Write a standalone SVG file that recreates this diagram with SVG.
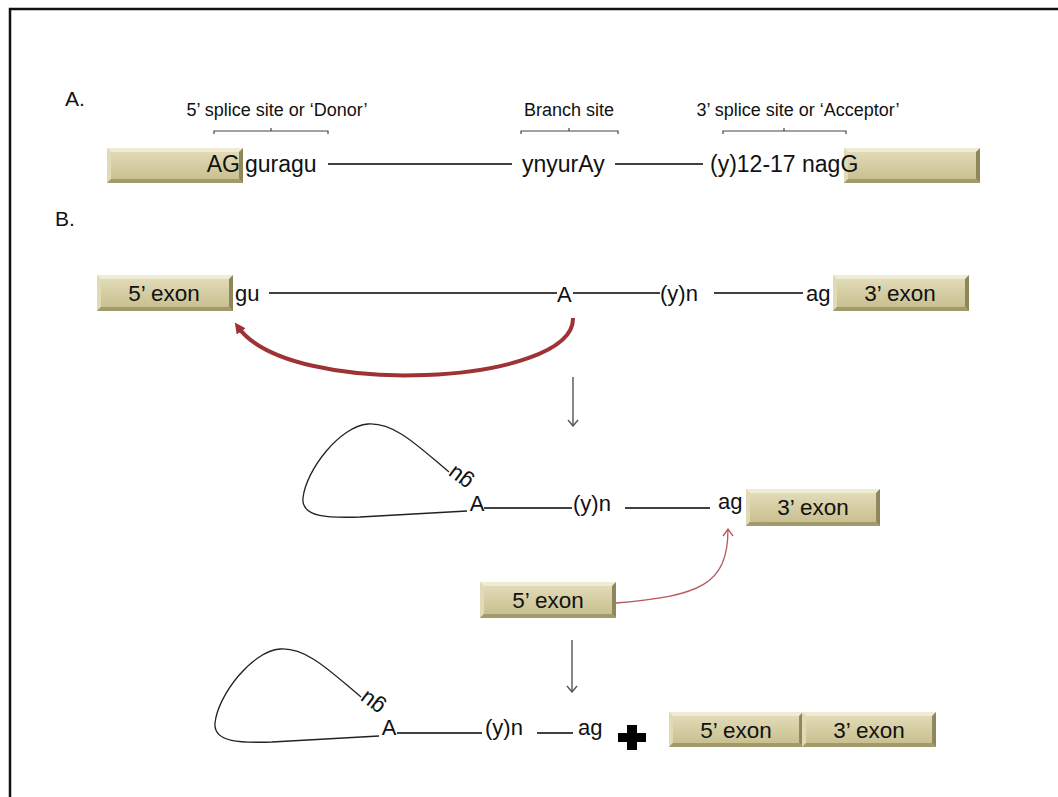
<svg xmlns="http://www.w3.org/2000/svg" xmlns:xlink="http://www.w3.org/1999/xlink" width="1058" height="797" viewBox="0 0 1058 797">
  <style>
    text { font-family: "Liberation Sans", Arial, sans-serif; fill: #111; }
    .lbl { font-size: 18px; }
    .seq { font-size: 23px; }
    .row { font-size: 22px; }
    .box { font-size: 22.5px; text-anchor: middle; }
    .head { font-size: 21px; }
    .strand { stroke: #000; stroke-width: 1.3; fill: none; }
    .brace { stroke: #444; stroke-width: 1.2; fill: none; }
    .step { stroke: #555; stroke-width: 1.4; fill: none; marker-end: url(#openHead); }
  </style>
  <defs>
    <linearGradient id="tan" x1="0" y1="0" x2="0" y2="1">
      <stop offset="0" stop-color="#e4dfbe"/>
      <stop offset="0.5" stop-color="#d5cda3"/>
      <stop offset="1" stop-color="#c6bc8c"/>
    </linearGradient>
    <!-- bevelled exon block, stretched to each box size -->
    <symbol id="exon" viewBox="0 0 136 36" preserveAspectRatio="none">
      <rect x="0" y="0" width="136" height="36" fill="url(#tan)"/>
      <polygon points="0,0 136,0 132,4 4,4" fill="#efebd5"/>
      <polygon points="0,0 4,4 4,32 0,36" fill="#e0dab6"/>
      <polygon points="136,0 136,36 132,32 132,4" fill="#8f875c"/>
      <polygon points="0,36 136,36 132,32 4,32" fill="#a39a6c"/>
    </symbol>
    <marker id="openHead" viewBox="0 0 12 12" refX="11" refY="6" markerWidth="12" markerHeight="12" markerUnits="userSpaceOnUse" orient="auto">
      <path d="M5 1 L11 6 L5 11" fill="none" stroke="#555" stroke-width="1.4"/>
    </marker>
    <marker id="redHead" viewBox="0 0 10 10" refX="5" refY="5" markerWidth="11" markerHeight="11" markerUnits="userSpaceOnUse" orient="auto">
      <path d="M0 0 L10 5 L0 10 Z" fill="#9e3234"/>
    </marker>
    <marker id="thinRedHead" viewBox="0 0 12 12" refX="11" refY="6" markerWidth="12" markerHeight="12" markerUnits="userSpaceOnUse" orient="auto">
      <path d="M4 1 L11 6 L4 11" fill="none" stroke="#b4585c" stroke-width="1.3"/>
    </marker>
    <!-- lariat loop closing on the branch A -->
    <path id="lariat" d="M449 472 C420 448 395 422 368 424 C340 426 306 470 303 498 C301 518 330 518 360 517 L467 511" fill="none" stroke="#222" stroke-width="1.3"/>
  </defs>

  <rect width="1058" height="797" fill="#fff"/>
  <!-- frame -->
  <path d="M10 797 V9 H1058" fill="none" stroke="#111" stroke-width="2.5"/>

  <!-- Panel A: consensus sequences -->
  <g id="panelA">
    <text class="head" x="65" y="106">A.</text>
    <g id="donor-label">
      <text class="lbl" x="277" y="116" text-anchor="middle">5’ splice site or ‘Donor’</text>
      <path class="brace" d="M214 134 V131 H328 V134 M271 131 V128"/>
    </g>
    <g id="branch-label">
      <text class="lbl" x="569" y="116" text-anchor="middle">Branch site</text>
      <path class="brace" d="M521 134 V131 H618 V134 M569 131 V128"/>
    </g>
    <g id="acceptor-label">
      <text class="lbl" x="798" y="116" text-anchor="middle">3’ splice site or ‘Acceptor’</text>
      <path class="brace" d="M723 134 V131 H846 V134 M784 131 V128"/>
    </g>
    <g id="exonA-left">
      <use href="#exon" x="107" y="148" width="136" height="35"/>
    </g>
    <g id="exonA-right">
      <use href="#exon" x="844" y="148" width="136" height="35"/>
    </g>
    <g id="intronA" class="strand">
      <line x1="328" y1="164" x2="512" y2="164"/>
      <line x1="615" y1="164" x2="703" y2="164"/>
    </g>
    <text class="seq" x="240" y="172" text-anchor="end">AG</text>
    <text class="seq" x="245" y="172">guragu</text>
    <text class="seq" x="522" y="172">ynyurAy</text>
    <text class="seq" x="710" y="172">(y)12-17 nagG</text>
  </g>

  <!-- Panel B: splicing steps -->
  <text class="head" x="55" y="226">B.</text>

  <!-- step 1: pre-mRNA -->
  <g id="pre-exon5">
    <use href="#exon" x="97" y="275" width="136" height="36"/>
    <text class="box" x="164" y="301">5’ exon</text>
  </g>
  <g id="pre-exon3">
    <use href="#exon" x="833" y="275" width="136" height="36"/>
    <text class="box" x="900" y="301">3’ exon</text>
  </g>
  <g id="pre-intron">
    <text class="row" x="235" y="301">gu</text>
    <text class="row" x="557" y="302">A</text>
    <text class="row" x="660" y="301">(y)n</text>
    <text class="row" x="806" y="301">ag</text>
  </g>

  <!-- step 2: lariat intermediate -->
  <g id="lariat1">
    <use href="#lariat"/>
    <text class="row" transform="translate(460 478) rotate(217)" text-anchor="middle" dy="7">gu</text>
    <text class="row" x="477" y="511" text-anchor="middle">A</text>
    <text class="row" x="573" y="511">(y)n</text>
    <text class="row" x="718" y="509">ag</text>
  </g>
  <g id="mid-exon3">
    <use href="#exon" x="746" y="489" width="134" height="37"/>
    <text class="box" x="813" y="515">3’ exon</text>
  </g>
  <g id="free-exon5">
    <use href="#exon" x="480" y="582" width="136" height="36"/>
    <text class="box" x="548" y="608">5’ exon</text>
  </g>

  <!-- step 3: released lariat and spliced exons -->
  <g id="lariat2">
    <use href="#lariat" transform="translate(-88 225)"/>
    <text class="row" transform="translate(372 703) rotate(217)" text-anchor="middle" dy="7">gu</text>
    <text class="row" x="389" y="735" text-anchor="middle">A</text>
    <text class="row" x="485" y="735">(y)n</text>
    <text class="row" x="578" y="735">ag</text>
  </g>
  <g id="plus">
    <path d="M627 725 H637 V733 H646 V742 H637 V750 H627 V742 H618 V733 H627 Z" fill="#000"/>
  </g>
  <g id="mrna">
    <use href="#exon" x="669" y="712" width="134" height="35"/>
    <use href="#exon" x="802" y="712" width="134" height="35"/>
    <text class="box" x="736" y="738">5’ exon</text>
    <text class="box" x="869" y="738">3’ exon</text>
  </g>

  <g id="connectors">
    <g class="strand">
      <line x1="269" y1="293" x2="557" y2="293"/>
      <line x1="573" y1="293" x2="660" y2="293"/>
      <line x1="714" y1="293" x2="803" y2="293"/>
      <line x1="484" y1="508" x2="572" y2="508"/>
      <line x1="625" y1="508" x2="710" y2="508"/>
      <line x1="397" y1="733" x2="482" y2="733"/>
      <line x1="537" y1="733" x2="573" y2="733"/>
    </g>
    <!-- branch-point attack on the 5' splice site -->
    <path d="M573 318 C575 385 290 400 238 327" fill="none" stroke="#9e3234" stroke-width="4" marker-end="url(#redHead)"/>
    <!-- 5' exon joins the 3' splice site -->
    <path d="M616 603 C700 596 728 585 728 529" fill="none" stroke="#b4585c" stroke-width="1.3" marker-end="url(#thinRedHead)"/>
    <line class="step" x1="573" y1="377" x2="573" y2="426"/>
    <line class="step" x1="572" y1="640" x2="572" y2="692"/>
  </g>
</svg>
